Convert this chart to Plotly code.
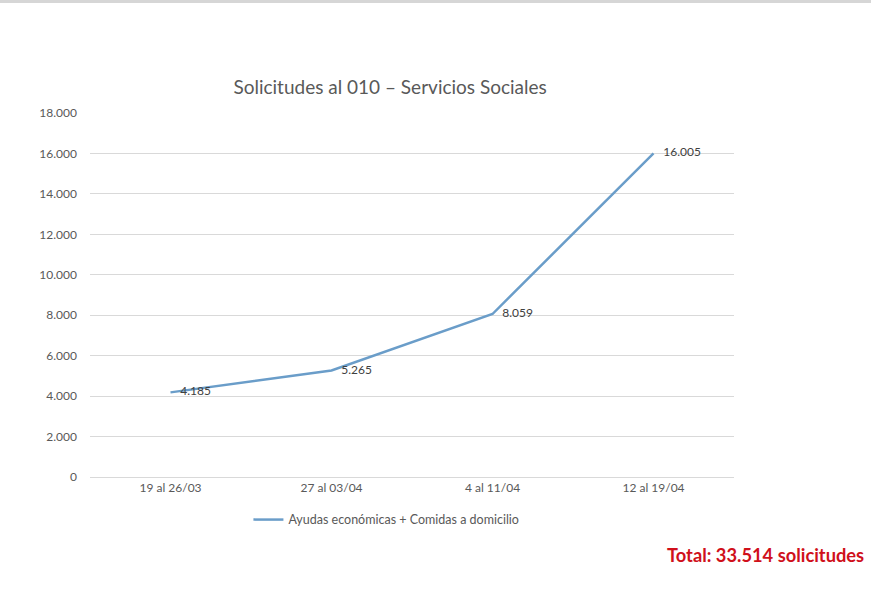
import plotly.graph_objects as go

# weekly request counts
semanas = ["19 al 26/03", "27 al 03/04", "4 al 11/04", "12 al 19/04"]
solicitudes = [4185, 5265, 8059, 16005]
serie = "Ayudas económicas + Comidas a domicilio"
titulo = "Solicitudes al 010 – Servicios Sociales"
total_txt = "Total: 33.514 solicitudes"

gris = "#595959"

fig = go.Figure()
fig.add_trace(go.Scatter(
    x=semanas, y=solicitudes, name=serie, mode="lines",
    line=dict(color="#6a9dc9", width=2.5),
))
# data labels (invisible markers push the text a little to the right)
fig.add_trace(go.Scatter(
    x=semanas, y=solicitudes, mode="markers+text", showlegend=False,
    marker=dict(size=14, opacity=0),
    text=solicitudes, texttemplate="%{y:,d}",
    textposition="middle right",
    textfont=dict(family="Lato", size=12, color="#404040"),
    cliponaxis=False, hoverinfo="skip",
))

fig.update_layout(
    width=871, height=601,
    paper_bgcolor="white", plot_bgcolor="white",
    separators=",.",
    margin=dict(l=90, r=137, t=113, b=124),
    font=dict(family="Lato", color=gris),
    title=dict(text=titulo, x=0.466, xref="paper", xanchor="center",
               y=1 - 87 / 601, yref="container", yanchor="middle",
               font=dict(size=19, color=gris)),
    showlegend=True,
    legend=dict(orientation="h", x=0.246, xanchor="left", y=-0.118, yanchor="middle",
                font=dict(size=12.5, color=gris), itemwidth=30),
)

fig.update_xaxes(range=[-0.5, 3.5], showgrid=False, showline=True,
                 linecolor="#d9d9d9", linewidth=1, ticks="",
                 tickfont=dict(size=12, color=gris))
fig.update_yaxes(range=[0, 18000], dtick=2000, tickformat=",d",
                 showgrid=True, gridcolor="#d9d9d9", gridwidth=1,
                 zeroline=False, ticks="", ticklabelstandoff=12,
                 tickfont=dict(size=12, color=gris))

# thin grey band along the top of the picture
fig.add_shape(type="rect", xref="paper", yref="paper",
              x0=-0.2, x1=1.3, y0=1 + 110 / 364, y1=1 + 114 / 364,
              line=dict(width=0), fillcolor="#d6d6d6")

fig.add_annotation(text="<b>" + total_txt + "</b>", xref="paper", yref="paper",
                   x=1 + 132 / 644, xanchor="right", y=-78 / 364, yanchor="middle",
                   showarrow=False, font=dict(size=18.3, color="#d0101b"))

fig.write_html("out.html", config={"displayModeBar": False},
               post_script="document.body.style.margin='0';document.body.style.overflow='hidden';")
